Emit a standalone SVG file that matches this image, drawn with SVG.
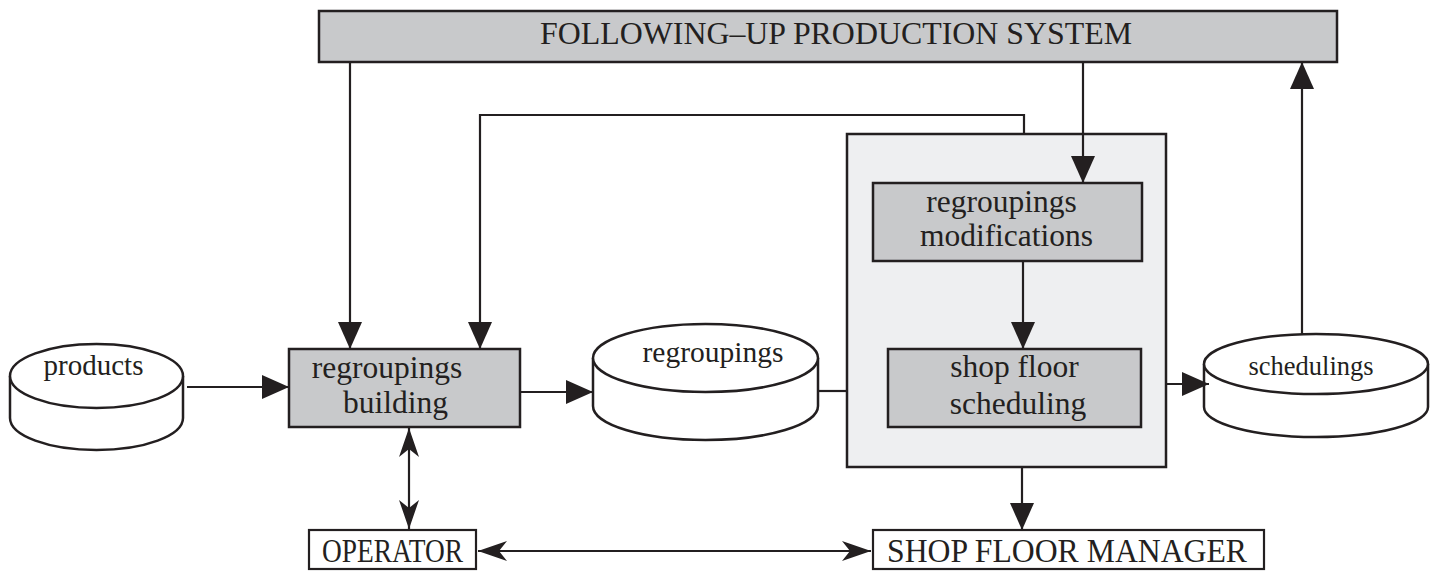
<svg xmlns="http://www.w3.org/2000/svg" width="1435" height="571" viewBox="0 0 1435 571">
<style>
.box{fill:#c8c9cb;stroke:#231f20;stroke-width:2.5}
.lbox{fill:#eeeff1;stroke:#231f20;stroke-width:2.5}
.wbox{fill:#fff;stroke:#231f20;stroke-width:2.2}
.cyl{fill:#fff;stroke:#231f20;stroke-width:2.5}
.t{font-family:"Liberation Serif","Times New Roman",serif;fill:#231f20;text-anchor:middle}
.c{fill:none;stroke:#231f20;stroke-width:2.2}
</style>
<defs>
<marker id="ah" markerUnits="userSpaceOnUse" markerWidth="28" markerHeight="25" refX="27" refY="12" orient="auto" viewBox="0 0 28 25">
<path d="M0,0 L27,12 L0,24 z" fill="#231f20"/>
</marker>
<marker id="bh" markerUnits="userSpaceOnUse" markerWidth="30" markerHeight="21" refX="29" refY="10" orient="auto-start-reverse" viewBox="0 0 30 21">
<path d="M0,0 L29,10 L0,20 L8,10 z" fill="#231f20"/>
</marker>
</defs>

<g id="following-up">
<rect class="box" x="319" y="11" width="1018" height="51"/>
<text class="t" x="836" y="44" font-size="32" textLength="592" lengthAdjust="spacingAndGlyphs">FOLLOWING–UP PRODUCTION SYSTEM</text>
</g>

<g id="products">
<path class="cyl" d="M10,376 L10,418 A86.5,32 0 0 0 183,418 L183,376"/>
<ellipse class="cyl" cx="96.5" cy="376" rx="86.5" ry="32"/>
<text class="t" x="93.5" y="375" font-size="29">products</text>
</g>

<g id="regroupings-building">
<rect class="box" x="289" y="349" width="231" height="78"/>
<text class="t" x="387" y="378" font-size="31.5">regroupings</text>
<text class="t" x="395.5" y="413" font-size="31.5">building</text>
</g>

<g id="regroupings-store">
<path class="cyl" d="M593,358 L593,406 A112.5,34 0 0 0 818,406 L818,358"/>
<ellipse class="cyl" cx="705.5" cy="358" rx="112.5" ry="34"/>
<text class="t" x="713" y="362" font-size="29.5">regroupings</text>
</g>

<g id="scheduling-group">
<rect class="lbox" x="847" y="134" width="319" height="333"/>
</g>

<g id="regroupings-modifications">
<rect class="box" x="873" y="183" width="269" height="78"/>
<text class="t" x="1001.5" y="212" font-size="31.5">regroupings</text>
<text class="t" x="1006.5" y="246" font-size="31.5">modifications</text>
</g>

<g id="shop-floor-scheduling">
<rect class="box" x="888" y="349" width="253" height="78"/>
<text class="t" x="1014.5" y="377" font-size="31.5">shop floor</text>
<text class="t" x="1018" y="414" font-size="31.5">scheduling</text>
</g>

<g id="schedulings">
<path class="cyl" d="M1204,364 L1204,407 A112,30 0 0 0 1428,407 L1428,364"/>
<ellipse class="cyl" cx="1316" cy="364" rx="112" ry="30"/>
<text class="t" x="1311" y="375" font-size="26.5">schedulings</text>
</g>

<g id="operator">
<rect class="wbox" x="309" y="530" width="167" height="39"/>
<text class="t" x="392.5" y="562" font-size="33" textLength="141" lengthAdjust="spacingAndGlyphs">OPERATOR</text>
</g>

<g id="shop-floor-manager">
<rect class="wbox" x="873" y="530" width="391" height="39"/>
<text class="t" x="1067" y="562" font-size="33" textLength="360" lengthAdjust="spacingAndGlyphs">SHOP FLOOR MANAGER</text>
</g>

<g id="connectors">
<line class="c" x1="350" y1="62" x2="350" y2="349" marker-end="url(#ah)"/>
<polyline class="c" points="1024,134 1024,115 480,115 480,349" marker-end="url(#ah)"/>
<line class="c" x1="1083" y1="62" x2="1083" y2="183" marker-end="url(#ah)"/>
<line class="c" x1="187" y1="387" x2="289" y2="387" marker-end="url(#ah)"/>
<line class="c" x1="520" y1="392" x2="593" y2="392" marker-end="url(#ah)"/>
<line class="c" x1="818" y1="391" x2="847" y2="391"/>
<line class="c" x1="1023" y1="262" x2="1023" y2="349" marker-end="url(#ah)"/>
<line class="c" x1="1166" y1="384" x2="1209" y2="384" marker-end="url(#ah)"/>
<line class="c" x1="1302" y1="334" x2="1302" y2="62" marker-end="url(#ah)"/>
<line class="c" x1="1022" y1="467" x2="1022" y2="530" marker-end="url(#ah)"/>
<line class="c" x1="409" y1="428" x2="409" y2="529" marker-start="url(#bh)" marker-end="url(#bh)"/>
<line class="c" x1="478" y1="551" x2="871" y2="551" marker-start="url(#bh)" marker-end="url(#bh)"/>
</g>
</svg>
